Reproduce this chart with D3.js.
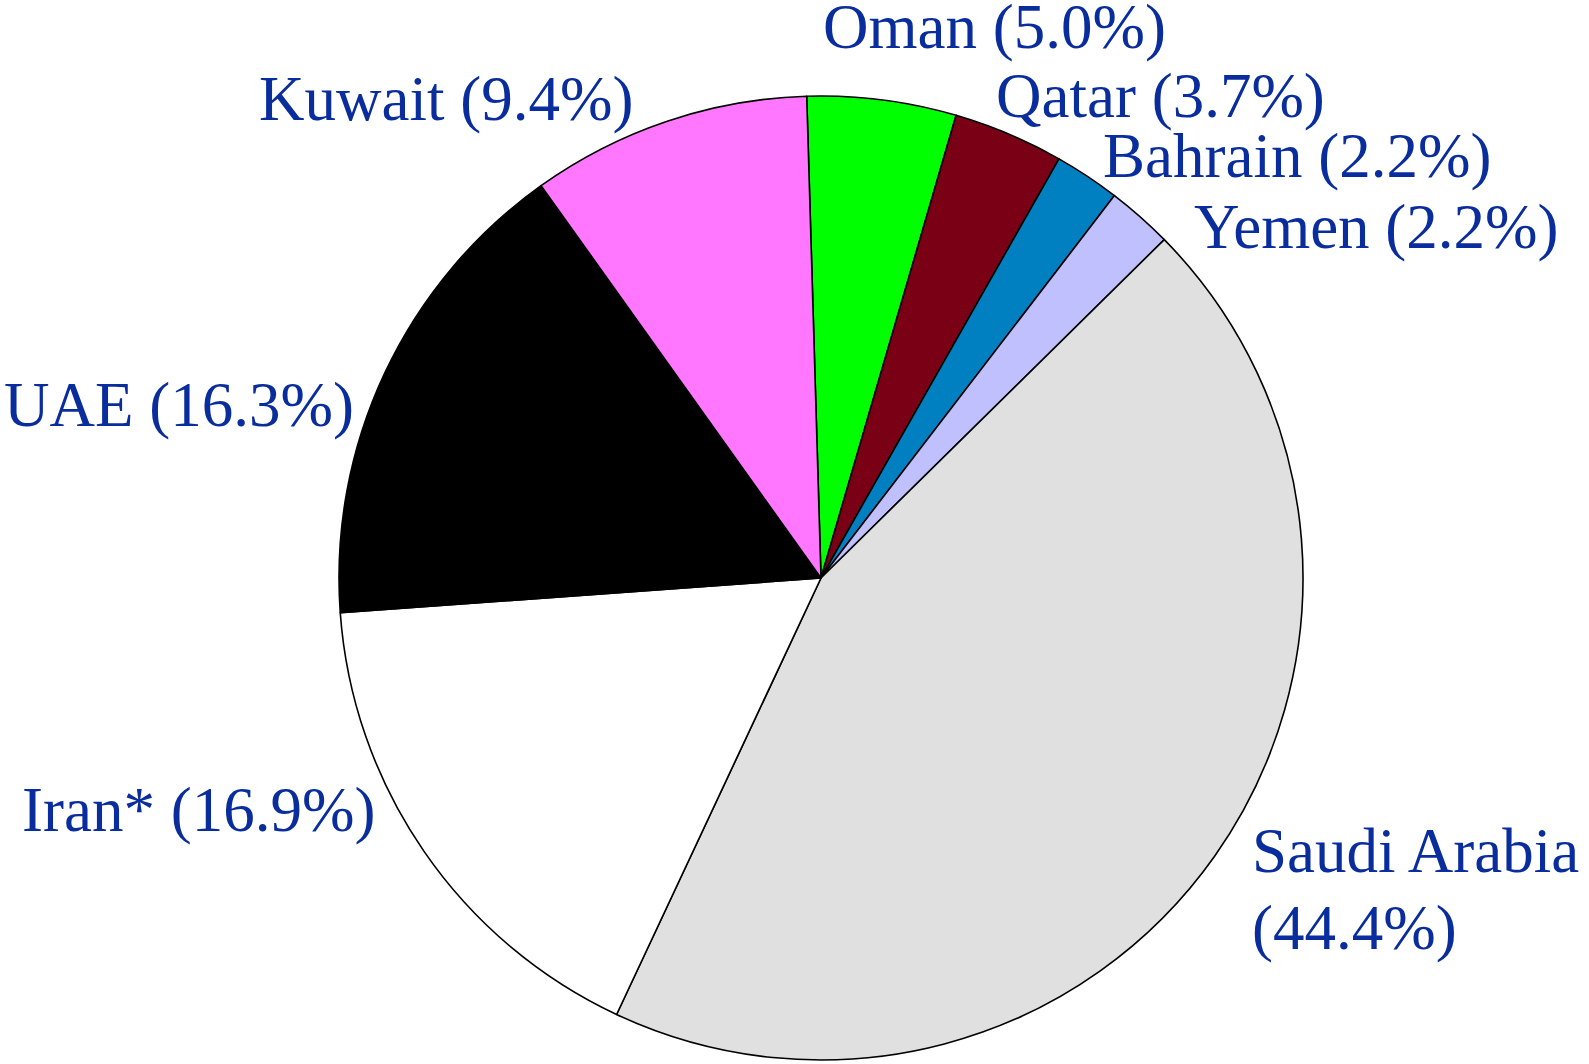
<!DOCTYPE html>
<html>
<head>
<meta charset="utf-8">
<script src="https://cdn.jsdelivr.net/npm/d3@7"></script>
<style>
  body { margin: 0; background: #fff; }
  svg text { font-family: "Liberation Serif", "Times New Roman", serif; }
</style>
</head>
<body>
<script>
var svg_width  = 1589;
var svg_height = 1064;

// data, clockwise from 12 o'clock
var countries = ["Oman", "Qatar", "Bahrain", "Yemen", "Saudi Arabia", "Iran*", "UAE", "Kuwait"];
var shares    = [5.0, 3.7, 2.2, 2.2, 44.4, 16.9, 16.3, 9.4];
var colors    = ["#00ff00", "#7a0016", "#0080c0", "#c0c0ff", "#e0e0e0", "#ffffff", "#000000", "#ff77ff"];

// where each label sits (left x, baseline y), by hand like the original
var labelPos = [[823, 48], [996, 117], [1103, 177], [1194, 248], [1252, 872], [22, 831], [4, 426], [259, 120]];

var cx = 821, cy = 578, radius = 482;

var svg = d3.select('body').append('svg')
            .attr('width', svg_width)
            .attr('height', svg_height)

var pie = d3.pie()
            .sort(null)
            .value(d => d)
            .startAngle(-1.7 * Math.PI / 180)
            .endAngle(2 * Math.PI - 1.7 * Math.PI / 180);

var arc = d3.arc()
            .innerRadius(0)
            .outerRadius(radius);

var slices = svg.append("g")
    .attr("transform", "translate(" + cx + "," + cy + ")")
    .selectAll("path")
    .data(pie(shares))
    .enter().append("path")
    .attr("d", arc)
    .attr("fill", (d, i) => colors[i])
    .attr("stroke", "#000")
    .attr("stroke-width", 1.6)
    .attr("stroke-linejoin", "round");

var labels = svg.append("g")
    .selectAll("text")
    .data(countries)
    .enter().append("text")
    .attr("x", (d, i) => labelPos[i][0])
    .attr("y", (d, i) => labelPos[i][1])
    .attr("font-size", 63)
    .attr("fill", "#0a2d9e");

labels.each(function(d, i) {
    var t = d3.select(this);
    var pct = "(" + shares[i].toFixed(1) + "%)";
    if (d == "Saudi Arabia") {
        // wraps onto two lines
        t.append("tspan").text(d);
        t.append("tspan").attr("x", labelPos[i][0]).attr("dy", 77).text(pct);
    } else {
        t.text(d + " " + pct);
    }
});
</script>
</body>
</html>
